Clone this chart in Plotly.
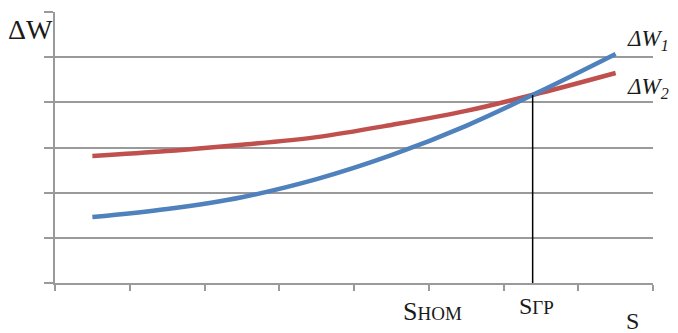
import plotly.graph_objects as go

# Data (category positions 0.5 .. 7.5 on an 8-interval axis)
s_points = [0.5, 1.5, 2.5, 3.5, 4.5, 5.5, 6.5, 7.5]
dW1 = [1.46, 1.64, 1.90, 2.30, 2.83, 3.48, 4.25, 5.07]
dW2 = [2.81, 2.92, 3.06, 3.23, 3.50, 3.81, 4.21, 4.65]
s_gr = 6.39
w_gr = 4.16

FONT = "Liberation Serif, Times New Roman, serif"
PX0, PY0, PW, PH = 55, 283, 598, 271  # plot area in page pixels


def px(x):
    return (x - PX0) / PW


def py(y):
    return (PY0 - y) / PH


fig = go.Figure()
fig.add_trace(go.Scatter(x=s_points, y=dW2, mode="lines",
                         line=dict(color="#C0504D", width=4.5, shape="spline", smoothing=1.0),
                         showlegend=False, hoverinfo="skip"))
fig.add_trace(go.Scatter(x=s_points, y=dW1, mode="lines",
                         line=dict(color="#4F81BD", width=4.5, shape="spline", smoothing=1.0),
                         showlegend=False, hoverinfo="skip"))
fig.add_trace(go.Scatter(x=[s_gr, s_gr], y=[0, w_gr], mode="lines",
                         line=dict(color="black", width=1.5),
                         showlegend=False, hoverinfo="skip"))

annots = [
    dict(x=px(30), y=py(30), text="ΔW", font=dict(size=28), xanchor="center", yanchor="middle"),
    dict(x=px(625), y=py(40), text="<i>ΔW<sub>1</sub></i>", font=dict(size=23), xanchor="left", yanchor="middle"),
    dict(x=px(625), y=py(88), text="<i>ΔW<sub>2</sub></i>", font=dict(size=23), xanchor="left", yanchor="middle"),
    dict(x=px(432), y=py(311), text="S<span style='font-size:19px'>HOM</span>", font=dict(size=26), xanchor="center", yanchor="middle"),
    dict(x=px(536), y=py(306), text="S<span style='font-size:19px'>ГР</span>", font=dict(size=24), xanchor="center", yanchor="middle"),
    dict(x=px(632), y=py(321), text="S", font=dict(size=24), xanchor="center", yanchor="middle"),
]
for a in annots:
    a.update(xref="paper", yref="paper", showarrow=False)
    a["font"].update(family=FONT, color="#1a1a1a")
fig.update_layout(annotations=annots)

# page body has an 8px margin, so the figure is sized/offset to compensate
fig.update_layout(
    width=670, height=325,
    margin=dict(l=47, r=25, t=4, b=50),
    paper_bgcolor="white", plot_bgcolor="white",
    xaxis=dict(range=[0, 8], dtick=1, tick0=0, showgrid=False, zeroline=False,
               showline=True, linecolor="#9a9a9a", linewidth=2,
               ticks="outside", ticklen=6, tickcolor="#9a9a9a", tickwidth=2,
               showticklabels=False, fixedrange=True),
    yaxis=dict(range=[0, 6], dtick=1, tick0=0, showgrid=True, gridcolor="#9a9a9a", gridwidth=2,
               zeroline=False, showline=True, linecolor="#9a9a9a", linewidth=2,
               ticks="outside", ticklen=9, tickcolor="#9a9a9a", tickwidth=2,
               showticklabels=False, fixedrange=True),
)

fig.write_html("out.html")
